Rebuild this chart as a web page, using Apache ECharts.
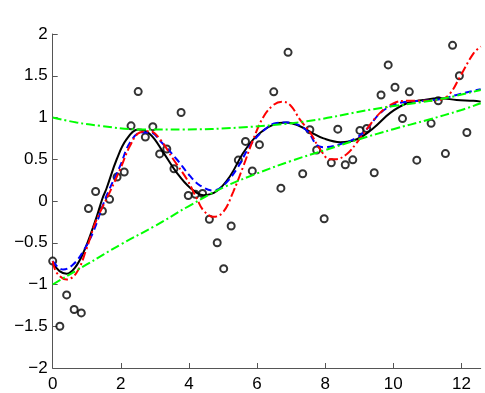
<!DOCTYPE html>
<html>
<head>
<meta charset="utf-8">
<script src="https://cdn.jsdelivr.net/npm/echarts@6/dist/echarts.min.js"></script>
<style>
html,body{margin:0;padding:0;background:#fff;}
#chart{width:485px;height:393px;}
</style>
</head>
<body>
<div id="chart"></div>
<script>
// ---- data ----
var xTicks = [0, 2, 4, 6, 8, 10, 12];
var yTicks = [-2, -1.5, -1, -0.5, 0, 0.5, 1, 1.5, 2];

var pointX = [0, 0.21, 0.41, 0.63, 0.84, 1.05, 1.26, 1.46, 1.67, 1.89, 2.10, 2.30, 2.51, 2.72, 2.94, 3.14, 3.35, 3.56, 3.77, 3.98, 4.19, 4.40, 4.60, 4.83, 5.02, 5.24, 5.45, 5.66, 5.86, 6.07, 6.49, 6.70, 6.91, 7.34, 7.55, 7.75, 7.97, 8.18, 8.37, 8.59, 8.81, 9.02, 9.22, 9.44, 9.64, 9.85, 10.05, 10.27, 10.47, 10.69, 11.11, 11.32, 11.53, 11.74, 11.94, 12.16];
var pointY = [-0.72, -1.50, -1.125, -1.30, -1.34, -0.09, 0.114, -0.12, 0.02, 0.288, 0.347, 0.90, 1.31, 0.765, 0.89, 0.564, 0.623, 0.386, 1.06, 0.066, 0.08, 0.09, -0.218, -0.50, -0.81, -0.30, 0.49, 0.714, 0.36, 0.675, 1.307, 0.154, 1.78, 0.327, 0.853, 0.611, -0.213, 0.457, 0.86, 0.434, 0.493, 0.845, 0.868, 0.339, 1.27, 1.63, 1.362, 0.987, 1.307, 0.489, 0.93, 1.20, 0.568, 1.864, 1.50, 0.82];

var blackX = [0, 0.2, 0.41, 0.65, 0.9, 1.24, 1.46, 1.58, 1.88, 2.17, 2.51, 2.86, 3.25, 3.64, 4.03, 4.42, 4.82, 5.21, 5.60, 5.99, 6.48, 6.87, 7.26, 7.6, 7.95, 8.44, 8.93, 9.42, 9.91, 10.40, 10.88, 11.37, 11.86, 12.35, 12.566];
var blackY = [-0.74, -0.84, -0.87, -0.80, -0.62, -0.25, 0.03, 0.15, 0.50, 0.74, 0.855, 0.80, 0.58, 0.34, 0.16, 0.07, 0.12, 0.30, 0.58, 0.78, 0.915, 0.94, 0.895, 0.82, 0.75, 0.705, 0.74, 0.875, 1.055, 1.17, 1.21, 1.23, 1.21, 1.20, 1.19];

var blueX = [0, 0.15, 0.31, 0.6, 0.9, 1.19, 1.49, 1.63, 1.98, 2.27, 2.61, 2.86, 3.2, 3.64, 4.03, 4.33, 4.72, 5.01, 5.40, 5.79, 6.18, 6.58, 6.97, 7.36, 7.55, 7.75, 7.95, 8.44, 8.93, 9.22, 9.61, 10.0, 10.40, 10.88, 11.37, 11.86, 12.35, 12.566];
var blueY = [-0.72, -0.79, -0.82, -0.76, -0.60, -0.37, -0.03, 0.11, 0.42, 0.70, 0.82, 0.82, 0.70, 0.50, 0.30, 0.185, 0.125, 0.185, 0.38, 0.66, 0.84, 0.935, 0.94, 0.875, 0.80, 0.67, 0.645, 0.68, 0.76, 0.86, 1.05, 1.15, 1.19, 1.20, 1.22, 1.27, 1.32, 1.34];

var redX = [0, 0.12, 0.41, 0.70, 1.0, 1.24, 1.49, 1.68, 1.98, 2.27, 2.56, 2.86, 3.15, 3.54, 3.94, 4.23, 4.42, 4.72, 5.01, 5.30, 5.60, 5.89, 6.19, 6.48, 6.73, 6.97, 7.26, 7.56, 7.85, 8.14, 8.29, 8.63, 8.93, 9.22, 9.61, 10.0, 10.40, 10.88, 11.37, 11.67, 11.96, 12.35, 12.566];
var redY = [-0.72, -0.86, -0.94, -0.86, -0.565, -0.27, -0.05, 0.11, 0.38, 0.66, 0.82, 0.835, 0.74, 0.50, 0.26, 0.03, -0.11, -0.19, -0.13, 0.11, 0.42, 0.74, 1.01, 1.15, 1.19, 1.15, 0.975, 0.82, 0.62, 0.50, 0.50, 0.56, 0.70, 0.86, 1.055, 1.17, 1.20, 1.20, 1.21, 1.29, 1.49, 1.765, 1.85];

var greenUpX = [0, 0.7, 1.39, 2.56, 3.84, 5.5, 7.46, 9.42, 11.37, 12.566];
var greenUpY = [1.0, 0.94, 0.90, 0.857, 0.857, 0.88, 0.955, 1.10, 1.22, 1.33];

var greenLowX = [0, 1, 2, 3, 4, 5, 6, 7, 8, 9, 10, 11, 12, 12.566];
var greenLowY = [-1.0, -0.76, -0.52, -0.30, -0.06, 0.16, 0.33, 0.48, 0.61, 0.74, 0.86, 0.97, 1.09, 1.17];

function zip(xs, ys) { return xs.map(function (x, i) { return [x, ys[i]]; }); }
function fmtNum(v) { return String(v).replace('-', '\u2212'); }

var chart = echarts.init(document.getElementById('chart'), null, { renderer: 'canvas' });
var axisColor = '#555555';
var fontFam = '"Liberation Sans", Arial, Helvetica, sans-serif';

function lineSeries(name, xs, ys, color, type) {
  return {
    name: name, type: 'line', data: zip(xs, ys), smooth: 0.4,
    showSymbol: false, symbol: 'none', silent: true, clip: true,
    lineStyle: { color: color, width: 2, type: type }
  };
}

chart.setOption({
  animation: false,
  backgroundColor: '#fff',
  grid: { left: 52.7, right: 4.3, top: 34, bottom: 21.3, containLabel: false },
  xAxis: {
    type: 'value', min: 0, max: 12.566, interval: 2,
    axisLine: { show: true, onZero: false, lineStyle: { color: axisColor, width: 1 } },
    axisTick: { show: true, inside: true, length: 5, lineStyle: { color: axisColor }, customValues: xTicks },
    axisLabel: { color: '#000', fontSize: 17, fontFamily: fontFam, margin: 8, customValues: xTicks, formatter: fmtNum },
    splitLine: { show: false }
  },
  yAxis: {
    type: 'value', min: -2, max: 2, interval: 0.5,
    axisLine: { show: true, onZero: false, lineStyle: { color: axisColor, width: 1 } },
    axisTick: { show: true, inside: true, length: 5, lineStyle: { color: axisColor }, customValues: yTicks },
    axisLabel: { color: '#000', fontSize: 17, fontFamily: fontFam, margin: 5, customValues: yTicks, formatter: fmtNum },
    splitLine: { show: false }
  },
  series: [
    {
      name: 'data', type: 'scatter', data: zip(pointX, pointY),
      symbol: 'emptyCircle', symbolSize: 7, silent: true,
      itemStyle: { color: '#000', borderColor: '#000', borderWidth: 2.2 }
    },
    lineSeries('fit', blackX, blackY, '#000000', 'solid'),
    lineSeries('blue', blueX, blueY, '#0000ff', [7, 4]),
    lineSeries('red', redX, redY, '#ff0000', [9, 3, 2, 3]),
    lineSeries('greenUp', greenUpX, greenUpY, '#00ff00', [9, 3, 2, 3]),
    lineSeries('greenLow', greenLowX, greenLowY, '#00ff00', [9, 3, 2, 3])
  ]
});
</script>
</body>
</html>
